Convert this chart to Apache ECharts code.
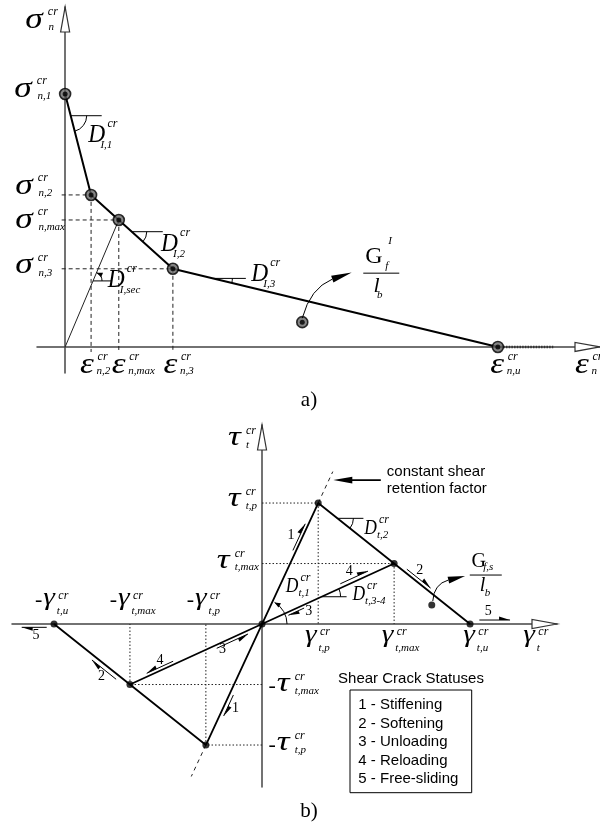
<!DOCTYPE html>
<html><head><meta charset="utf-8">
<script src="https://cdn.jsdelivr.net/npm/echarts@6/dist/echarts.min.js"></script>
<style>html,body{margin:0;background:#fff}#c{width:600px;height:830px}</style>
</head><body><div id="c"></div>
<script>
// ---------- a) normal (mode I) crack: tension-softening diagram ----------
const epsA = [0, 0.06, 0.124, 0.249, 1.0];   // 0, ε_n,2, ε_n,max, ε_n,3, ε_n,u
const sigA = [1.0, 0.601, 0.502, 0.309, 0];  // σ_n,1, σ_n,2, σ_n,max, σ_n,3, 0
const epsTailEnd = 1.128;                    // dotted zero-stress branch beyond ε_n,u
const gfPointA = [0.548, 0.098];             // energy marker (G_f^I / l_b)
const xRangeA = [-0.065, 1.236];
const yRangeA = [-0.103, 1.344];

// ---------- b) shear crack: stress-strain diagram ----------
const gamB = [0.27, 0.635, 1.0];             // γ_t,p, γ_t,max, γ_t,u
const tauB = [1.0, 0.5, 0];                  // τ_t,p, τ_t,max, 0
const retentionTop = 1.26;                   // reach of constant shear retention line (τ)
const gfPointB = [0.816, 0.157];             // energy marker (G_f,s / l_b)
const xRangeB = [-1.202, 1.418];
const yRangeB = [-1.347, 1.645];
const statusTitle = 'Shear Crack Statuses';
const statuses = ['1 - Stiffening', '2 - Softening', '3 - Unloading', '4 - Reloading', '5 - Free-sliding'];

const SERIF = '"Liberation Serif","Times New Roman",serif';
const SANS = '"Liberation Sans",Arial,sans-serif';

function axis(gi, range) {
  return {
    type: 'value', gridIndex: gi, min: range[0], max: range[1],
    axisLine: { show: true, onZero: true, lineStyle: { color: '#444', width: 1.5 } },
    axisTick: { show: false }, axisLabel: { show: false }, splitLine: { show: false }
  };
}
function seg(g, data, ls, extra) {
  return Object.assign({
    type: 'line', xAxisIndex: g, yAxisIndex: g, data: data, symbol: 'none',
    silent: true, lineStyle: ls, z: 2
  }, extra || {});
}

const series = [];
// a) guides to σ_n,2, σ_n,max, σ_n,3
const dashA = { color: '#222', width: 1, type: [4, 3] };
for (let i = 1; i <= 3; i++) {
  series.push(seg(0, [[-0.008, sigA[i]], [epsA[i], sigA[i]]], dashA));
  series.push(seg(0, [[epsA[i], sigA[i]], [epsA[i], -0.02]], dashA));
}
// a) secant stiffness line
series.push(seg(0, [[0, 0], [epsA[2], sigA[2]]], { color: '#222', width: 1 }));
// a) dotted tail
series.push(seg(0, [[epsA[4], 0], [epsTailEnd, 0]], { color: '#333', width: 2.6, type: [1.5, 1.2] }));
// a) softening curve
const curveA = epsA.map((e, i) => [e, sigA[i]]);
series.push(seg(0, curveA, { color: '#000', width: 2 }, { z: 5 }));
series.push({ type: 'scatter', xAxisIndex: 0, yAxisIndex: 0, data: curveA.concat([gfPointA]), symbolSize: 11,
  itemStyle: { color: '#666', borderColor: '#000', borderWidth: 1.6 }, silent: true, z: 6 });
series.push({ type: 'scatter', xAxisIndex: 0, yAxisIndex: 0, data: curveA.concat([gfPointA]), symbolSize: 5,
  itemStyle: { color: '#000' }, silent: true, z: 7 });

// b) dotted guides
const dotB = { color: '#222', width: 1, type: [1.5, 2] };
for (let i = 0; i < 2; i++) {
  for (const s of [1, -1]) {
    series.push(seg(1, [[0, s * tauB[i]], [s * gamB[i], s * tauB[i]]], dotB));
    series.push(seg(1, [[s * gamB[i], s * tauB[i]], [s * gamB[i], 0]], dotB));
  }
}
// b) constant shear retention extensions
for (const s of [1, -1]) {
  series.push(seg(1, [[s * gamB[0], s * tauB[0]], [s * gamB[0] * retentionTop / tauB[0], s * retentionTop]],
    { color: '#222', width: 1, type: [4, 4] }));
}
// b) envelope: stiffening, softening (both signs)
const loopB = [];
for (let i = 2; i >= 0; i--) loopB.push([-gamB[i], -tauB[i]]);
loopB.push([0, 0]);
for (let i = 0; i <= 2; i++) loopB.push([gamB[i], tauB[i]]);
series.push(seg(1, loopB, { color: '#000', width: 1.8 }, { z: 5 }));
// b) unloading / reloading through origin
series.push(seg(1, [[-gamB[1], -tauB[1]], [0, 0], [gamB[1], tauB[1]]], { color: '#000', width: 1.8 }, { z: 5 }));
series.push({ type: 'scatter', xAxisIndex: 1, yAxisIndex: 1, data: loopB.concat([gfPointB]), symbolSize: 7,
  itemStyle: { color: '#000' }, silent: true, z: 7 });

const option = {
  animation: false,
  grid: [{ left: 37, top: 7, width: 563, height: 366 }, { left: 12, top: 425, width: 545, height: 362 }],
  xAxis: [axis(0, xRangeA), axis(1, xRangeB)],
  yAxis: [axis(0, yRangeA), axis(1, yRangeB)],
  series: series
};

const chart = echarts.init(document.getElementById('c'), null, { renderer: 'canvas' });
chart.setOption(option);

// ---------- annotations ----------
const P = (g, pt) => chart.convertToPixel({ gridIndex: g }, pt);
const els = [];
const mctx = document.createElement('canvas').getContext('2d');
function txt(x, y, text, font, align, sx) {
  const el = { type: 'text', x: x, y: y, silent: true, z: 100,
    style: { text: text, font: font, fill: '#000', align: align || 'left', verticalAlign: 'middle',
      textAlign: align || 'left', textVerticalAlign: 'middle' } };
  if (sx) el.scaleX = sx;
  return el;
}
function line(p, q, w, color) {
  return { type: 'line', silent: true, z: 90, shape: { x1: p[0], y1: p[1], x2: q[0], y2: q[1] },
    style: { stroke: color || '#000', lineWidth: w || 1 } };
}
function tri(tip, dir, len, hw, fill) {
  const b = [tip[0] - dir[0] * len, tip[1] - dir[1] * len];
  const n = [-dir[1], dir[0]];
  return { type: 'polygon', silent: true, z: 95,
    shape: { points: [tip, [b[0] + n[0] * hw, b[1] + n[1] * hw], [b[0] - n[0] * hw, b[1] - n[1] * hw]] },
    style: { fill: fill || '#000', stroke: '#333', lineWidth: fill === '#fff' ? 1.2 : 0 } };
}

// symbol families: base glyph, size, ink width, sup/sub offsets from glyph left & glyph centre
const FAM = {
  sigma: { base: 'σ', size: 29, w: 19.5, sup: [22.7, -10], sub: [23.3, 5] },
  eps:   { base: 'ε', size: 29, w: 14.5, sup: [17.5, -10], sub: [16.5, 4] },
  tau:   { base: 'τ', size: 27, w: 14.5, sup: [18, -9], sub: [18, 5] },
  gam:   { base: 'γ', size: 26, w: 12.5, sup: [15, -5], sub: [13.5, 11] },
  Da:    { base: 'D', size: 26, w: 18, sup: [20, -10.5], sub: [13, 11], upper: true },
  Db:    { base: 'D', size: 22, w: 13.5, sup: [15.5, -7], sub: [13.5, 8], upper: true }
};
function mathLabel(x, y, fam, sub, minus) {
  const f = FAM[fam];
  const yy = y - (f.upper ? 0 : 3);
  const font = 'italic ' + f.size + 'px ' + SERIF;
  mctx.font = font;
  const m = mctx.measureText(f.base);
  const ink = (m.actualBoundingBoxRight || m.width) + (m.actualBoundingBoxLeft || 0);
  const sx = ink > 0 ? f.w / ink : 1;
  els.push(txt(x + (m.actualBoundingBoxLeft || 0) * sx, yy, f.base, font, 'left', sx));
  els.push(txt(x + f.sup[0], y + f.sup[1] - 1, 'cr', 'italic 12px ' + SERIF));
  els.push(txt(x + f.sub[0], y + f.sub[1] - 1, sub, 'italic 11px ' + SERIF));
  if (minus) els.push(txt(x - 1, y - 1, '-', '22px ' + SERIF, 'right'));
}
function labelAt(g, at, d, fam, sub, minus) {
  const p = P(g, at);
  mathLabel(p[0] + d[0], p[1] + d[1], fam, sub, minus);
}

// axis arrowheads (hollow)
for (const [g, xr, yr] of [[0, xRangeA, yRangeA], [1, xRangeB, yRangeB]]) {
  els.push(tri(P(g, [0, yr[1]]), [0, -1], 25, 4.5, '#fff'));
  els.push(tri(P(g, [xr[1], 0]), [1, 0], 25, 4.5, '#fff'));
}

// angle markers
function angleMark(g, A, B, t, h, r, arrow, stop) {
  const a = P(g, A), b = P(g, B);
  const v = [a[0] + (b[0] - a[0]) * t, a[1] + (b[1] - a[1]) * t];
  let th = Math.atan2(b[1] - a[1], b[0] - a[0]);
  if (stop) th *= stop;
  if (h > 0) els.push(line(v, [v[0] + h, v[1]], 1));
  els.push({ type: 'arc', silent: true, z: 90,
    shape: { cx: v[0], cy: v[1], r: r, startAngle: Math.min(0, th), endAngle: Math.max(0, th), clockwise: true },
    style: { stroke: '#000', fill: 'none', lineWidth: 1 } });
  if (arrow) {
    const tip = [v[0] + r * Math.cos(th), v[1] + r * Math.sin(th)];
    const sg = Math.sign(th);
    els.push(tri(tip, [-Math.sin(th) * sg, Math.cos(th) * sg], 6, 2.5));
  }
  return v;
}
const ptA = i => [epsA[i], sigA[i]];
let v;
v = angleMark(0, ptA(0), ptA(1), 0.215, 31, 16); mathLabel(v[0] + 16.7, v[1] + 19.8, 'Da', 'I,1');
v = angleMark(0, ptA(2), ptA(3), 0.24, 31, 15); mathLabel(v[0] + 28.3, v[1] + 12.3, 'Da', 'I,2');
v = angleMark(0, ptA(3), ptA(4), 0.123, 33, 19.5); mathLabel(v[0] + 37.4, v[1] - 4.3, 'Da', 'I,3');
v = angleMark(0, [0, 0], ptA(2), 0.52, 19, 9, true); mathLabel(v[0] + 13.8, v[1] - 1, 'Da', 'I,sec');

const O = [0, 0], Pk = [gamB[0], tauB[0]], Mx = [gamB[1], tauB[1]], Ux = [gamB[2], 0];
const nPk = [-gamB[0], -tauB[0]], nMx = [-gamB[1], -tauB[1]], nUx = [-gamB[2], 0];
v = angleMark(1, Pk, Mx, 0.253, 26, 16); mathLabel(v[0] + 26, v[1] + 9.7, 'Db', 't,2');
v = angleMark(1, O, Mx, 0.451, 25, 19); mathLabel(v[0] + 30, v[1] - 2.7, 'Db', 't,3-4');
v = angleMark(1, O, Pk, 0, 0, 25, true, 0.92); mathLabel(v[0] + 23, v[1] - 38, 'Db', 't,1');

// axis / value labels, panel a
labelAt(0, [0, yRangeA[1]], [-40, 16], 'sigma', 'n');
const subA = ['n,1', 'n,2', 'n,max', 'n,3'];
const dyA = [-2, -6, 3, 0];
for (let i = 0; i < 4; i++) labelAt(0, [0, sigA[i]], [i === 0 ? -51 : -50, dyA[i]], 'sigma', subA[i]);
const epsSub = ['n,2', 'n,max', 'n,3', 'n,u'];
const epsDx = [-11, -7, -9.4, -7.7];
for (let i = 1; i <= 4; i++) labelAt(0, [epsA[i], 0], [epsDx[i - 1], 21], 'eps', epsSub[i - 1]);
labelAt(0, [xRangeA[1], 0], [-25, 21], 'eps', 'n');

// axis / value labels, panel b
labelAt(1, [0, yRangeB[1]], [-34, 16], 'tau', 't');
labelAt(1, [0, tauB[0]], [-34.3, -1.3], 'tau', 't,p');
labelAt(1, [0, tauB[1]], [-45.3, 0], 'tau', 't,max');
labelAt(1, [0, -tauB[1]], [14.7, 2.2], 'tau', 't,max', true);
labelAt(1, [0, -tauB[0]], [14.7, 1], 'tau', 't,p', true);
const gSub = ['t,p', 't,max', 't,u'];
const gDxNeg = [-10.8, -11.9, -10.7], gDxPos = [-13.2, -12.4, -6.7];
for (let i = 0; i < 3; i++) {
  labelAt(1, [-gamB[i], 0], [gDxNeg[i], -22.5], 'gam', gSub[i], true);
  labelAt(1, [gamB[i], 0], [gDxPos[i], 14], 'gam', gSub[i]);
}
labelAt(1, [xRangeB[1], 0], [-33.7, 14], 'gam', 't');

// status harpoons along branches
function harpoon(g, A, B, t0, t1, off, headEnd, label, ld) {
  const a = P(g, A), b = P(g, B);
  const dx = b[0] - a[0], dy = b[1] - a[1], L = Math.hypot(dx, dy);
  const ux = dx / L, uy = dy / L, nx = -uy, ny = ux;
  const s = [a[0] + ux * L * t0 + nx * off, a[1] + uy * L * t0 + ny * off];
  const e = [a[0] + ux * L * t1 + nx * off, a[1] + uy * L * t1 + ny * off];
  els.push(line(s, e, 1));
  const tip = headEnd ? e : s;
  const d = headEnd ? [ux, uy] : [-ux, -uy];
  const sg = Math.sign(off) || 1;
  const back = [tip[0] - d[0] * 11, tip[1] - d[1] * 11];
  const barb = [back[0] + nx * sg * 3.5, back[1] + ny * sg * 3.5];
  els.push({ type: 'polygon', silent: true, z: 95, shape: { points: [tip, back, barb] }, style: { fill: '#000' } });
  const m = [(s[0] + e[0]) / 2, (s[1] + e[1]) / 2];
  els.push(txt(m[0] + ld[0], m[1] + ld[1], label, '14px ' + SERIF, 'center'));
}
harpoon(1, O, Pk, 0.598, 0.818, -3, true, '1', [-8.2, -1.7]);
harpoon(1, Mx, Ux, 0.139, 0.452, -3.5, true, '2', [1, -8]);
harpoon(1, O, Mx, 0.19, 0.309, 3, false, '3', [12.5, 0]);
harpoon(1, O, Mx, 0.605, 0.815, -4, true, '4', [-5, -6]);
harpoon(1, Ux, [xRangeB[1], 0], 0.107, 0.46, -4, true, '5', [-6.4, -8.3]);
harpoon(1, nUx, [xRangeB[0], 0], 0.174, 0.769, -3.3, true, '5', [1.8, 8.4]);
harpoon(1, nUx, nMx, 0.536, 0.855, 4.5, false, '2', [-2.5, 7]);
harpoon(1, nMx, O, 0.137, 0.337, -3.2, false, '4', [0, -6.5]);
harpoon(1, nMx, O, 0.647, 0.884, 3.2, true, '3', [-10, 8.7]);
harpoon(1, O, nPk, 0.573, 0.746, -3.9, true, '1', [7, 2.5]);

// energy fractions with curved pointers
function curvedArrow(base, s, c, e, tip, hw) {
  els.push({ type: 'bezierCurve', silent: true, z: 90,
    shape: { x1: base[0] + s[0], y1: base[1] + s[1], cpx1: base[0] + c[0], cpy1: base[1] + c[1],
      x2: base[0] + e[0], y2: base[1] + e[1] },
    style: { stroke: '#000', fill: 'none', lineWidth: 1 } });
  const dx = tip[0] - e[0], dy = tip[1] - e[1], L = Math.hypot(dx, dy);
  els.push(tri([base[0] + tip[0], base[1] + tip[1]], [dx / L, dy / L], L, hw));
}
function fraction(c, o) {
  els.push(line([c[0] - o.half, c[1]], [c[0] + o.half, c[1]], 1));
  els.push(txt(c[0] + o.G[0], c[1] + o.G[1], 'G', o.gs + 'px ' + SERIF));
  if (o.sup) els.push(txt(c[0] + o.sup[0], c[1] + o.sup[1], o.supT, 'italic 11px ' + SERIF));
  els.push(txt(c[0] + o.sub[0], c[1] + o.sub[1], o.subT, 'italic 11px ' + SERIF));
  els.push(txt(c[0] + o.l[0], c[1] + o.l[1], 'l', 'italic ' + o.ls + 'px ' + SERIF));
  els.push(txt(c[0] + o.b[0], c[1] + o.b[1], 'b', 'italic 11px ' + SERIF));
}
const gA = P(0, gfPointA);
curvedArrow(gA, [0, -4], [8, -34], [30, -43], [49.4, -49.6], 3.5);
fraction([gA[0] + 79, gA[1] - 49], { half: 18, G: [-16, -16.8], gs: 24, sup: [7, -32], supT: 'I',
  sub: [4, -7], subT: 'f', l: [-7.7, 13], ls: 22, b: [-4.3, 22] });
const gB = P(1, gfPointB);
curvedArrow(gB, [1, -4], [2, -21], [16.6, -25], [33.3, -29], 3.5);
fraction([gB[0] + 54, gB[1] - 30], { half: 16, G: [-14.2, -13.3], gs: 20, subT: 'f,s',
  sub: [-2.6, -8], l: [-6, 11], ls: 20, b: [-1, 18.5] });

// constant shear retention note
const rt = P(1, [gamB[0] * retentionTop / tauB[0], retentionTop]);
els.push(txt(rt[0] + 54, rt[1], 'constant shear', '15px ' + SANS));
els.push(txt(rt[0] + 54, rt[1] + 17.5, 'retention factor', '15px ' + SANS));
els.push(line([rt[0] + 48, rt[1] + 8.5], [rt[0] + 14, rt[1] + 8.5], 1.6));
els.push(tri([rt[0] + 0.5, rt[1] + 8.5], [-1, 0], 19, 3.4));

// status list box
els.push(txt(411, 679, statusTitle, '15px ' + SANS, 'center'));
els.push({ type: 'rect', silent: true, z: 90, shape: { x: 350, y: 690, width: 121.7, height: 102.7 },
  style: { stroke: '#000', fill: 'none', lineWidth: 1 } });
statuses.forEach((s, i) => els.push(txt(358.3, 705 + i * 18.5, s, '15px ' + SANS)));

// panel captions
els.push(txt(309, 400, 'a)', '21px ' + SERIF, 'center'));
els.push(txt(309, 811.5, 'b)', '21px ' + SERIF, 'center'));

chart.setOption({ graphic: { elements: els } });
</script>
</body></html>
